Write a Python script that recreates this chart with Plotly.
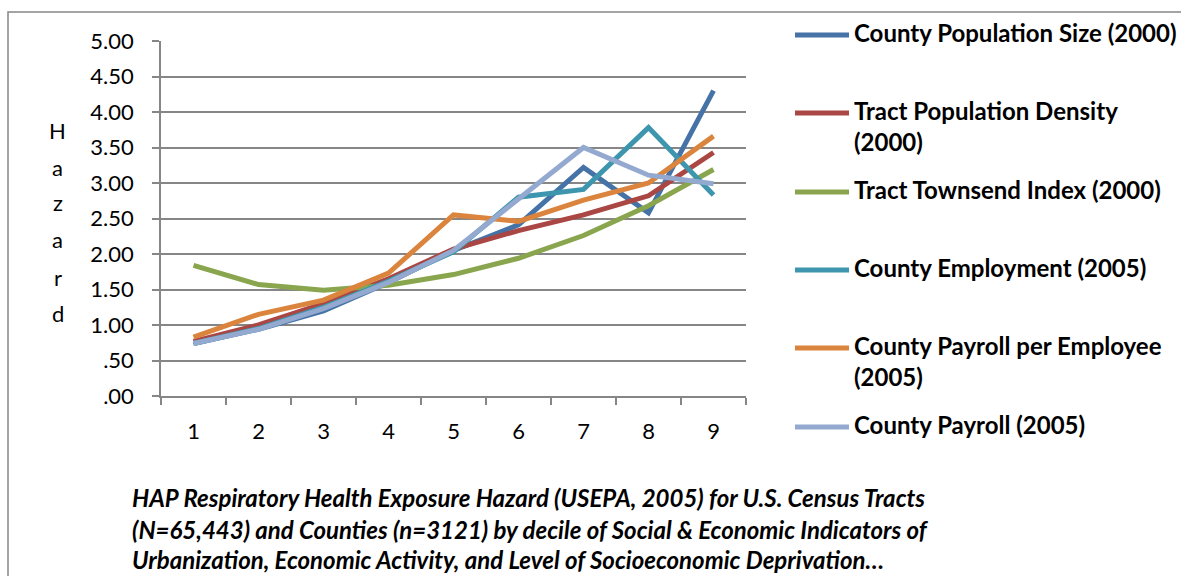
import plotly.graph_objects as go

deciles = ["1", "2", "3", "4", "5", "6", "7", "8", "9"]

county_pop_size = [0.74, 0.94, 1.20, 1.60, 2.05, 2.41, 3.22, 2.58, 4.30]
tract_pop_density = [0.77, 1.00, 1.30, 1.65, 2.07, 2.33, 2.55, 2.82, 3.43]
tract_townsend = [1.84, 1.57, 1.49, 1.56, 1.71, 1.94, 2.26, 2.68, 3.19]
county_employment = [0.74, 0.95, 1.25, 1.62, 2.03, 2.80, 2.91, 3.78, 2.83]
county_payroll_per_emp = [0.83, 1.15, 1.35, 1.73, 2.55, 2.46, 2.76, 3.00, 3.66]
county_payroll = [0.74, 0.94, 1.23, 1.60, 2.05, 2.77, 3.50, 3.11, 2.99]

series_names = [
    "County Population Size (2000)",
    "Tract Population Density<br>(2000)",
    "Tract Townsend Index (2000)",
    "County Employment (2005)",
    "County Payroll per Employee<br>(2005)",
    "County Payroll (2005)",
]
series_values = [county_pop_size, tract_pop_density, tract_townsend,
                 county_employment, county_payroll_per_emp, county_payroll]
colors = ["#4572A7", "#AA4643", "#89A54E", "#3D96AE", "#DB843D", "#93A9CF"]

y_tickvals = [0, 0.5, 1, 1.5, 2, 2.5, 3, 3.5, 4, 4.5, 5]
y_ticktext = [".00", ".50", "1.00", "1.50", "2.00", "2.50", "3.00", "3.50", "4.00", "4.50", "5.00"]

axis_label = "Hazard"
caption_lines = [
    "HAP Respiratory Health Exposure Hazard (USEPA, 2005) for U.S. Census Tracts",
    "(N=65,443) and Counties (n=3121) by decile of Social &amp; Economic Indicators of",
    "Urbanization, Economic Activity, and Level of Socioeconomic Deprivation…",
]

W, H = 1181, 576
L, R, T, B = 161, 746, 41, 396
pw, ph = R - L, B - T

def px(x):
    return (x - L) / pw

def py(y):
    return (B - y) / ph

fig = go.Figure()
for name, vals, c in zip(series_names, series_values, colors):
    fig.add_trace(go.Scatter(x=deciles, y=vals, mode="lines", name=name,
                             line=dict(color=c, width=5), showlegend=False))

FONT = "Lato, 'Open Sans', sans-serif"
grid = "#868686"

fig.update_layout(
    width=W, height=H,
    margin=dict(l=L, r=W - R, t=T, b=H - B, pad=0),
    paper_bgcolor="white", plot_bgcolor="white",
    font=dict(family=FONT, size=22, color="#000000"),
    xaxis=dict(type="category", range=[-0.5, 8.5], tickson="boundaries", ticks="outside",
               ticklen=7, tickcolor=grid, tickwidth=1.5, showline=True, linecolor=grid,
               linewidth=1.5, showgrid=False, zeroline=False, ticklabelstandoff=15,
               tickfont=dict(family=FONT, size=22)),
    yaxis=dict(range=[0, 5], tickvals=y_tickvals, ticktext=y_ticktext, ticks="outside",
               ticklen=7, tickcolor=grid, tickwidth=1.5, showline=True, linecolor=grid,
               linewidth=1.5, showgrid=True, gridcolor=grid, gridwidth=1.5, zeroline=False,
               ticklabelstandoff=14, tickfont=dict(family=FONT, size=22)),
)

shapes = []
annotations = []

# outer chart border
shapes.append(dict(type="rect", xref="paper", yref="paper",
                   x0=px(8), x1=px(W + 20), y0=py(12), y1=py(H + 20),
                   line=dict(color=grid, width=1.5), fillcolor="rgba(0,0,0,0)", layer="below"))

# vertical stacked axis title
letter_y = [130, 167, 203, 240, 277, 313]
for ch, yy in zip(axis_label, letter_y):
    annotations.append(dict(text=ch, xref="paper", yref="paper", x=px(58), y=py(yy),
                            xanchor="center", yanchor="middle", showarrow=False,
                            font=dict(family=FONT, size=22, color="#000")))

# legend
leg_y = [35, 113, 192, 270, 348, 427]
for name, c, yy in zip(series_names, colors, leg_y):
    shapes.append(dict(type="line", xref="paper", yref="paper",
                       x0=px(795), x1=px(849), y0=py(yy), y1=py(yy),
                       line=dict(color=c, width=5)))
    annotations.append(dict(text="<b>" + name + "</b>", xref="paper", yref="paper",
                            x=px(852), y=py(yy - 19), xanchor="left", yanchor="top",
                            align="left", showarrow=False,
                            font=dict(family=FONT, size=24, color="#000")))

# caption
cap_y = [497, 529, 559]
for line, yy in zip(caption_lines, cap_y):
    annotations.append(dict(text="<b><i>" + line + "</i></b>", xref="paper", yref="paper",
                            x=px(130), y=py(yy), xanchor="left", yanchor="middle",
                            showarrow=False, font=dict(family=FONT, size=24, color="#000")))

fig.update_layout(shapes=shapes, annotations=annotations)
fig.write_html("out.html", config={"displayModeBar": False},
               post_script="document.body.style.margin='0px';")
